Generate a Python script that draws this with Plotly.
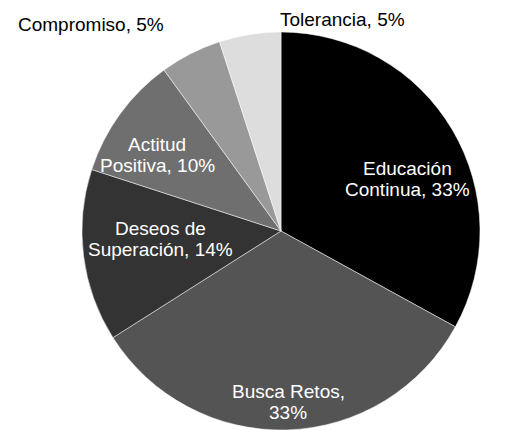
import plotly.graph_objects as go

# ---- data ----
categories = ["Educación Continua", "Busca Retos", "Deseos de Superación",
              "Actitud Positiva", "Compromiso", "Tolerancia"]
values = [33, 33, 14, 10, 5, 5]
colors = ["#000000", "#545454", "#333333", "#6f6f6f", "#999999", "#dddddd"]

# how each data label is split into lines (label text, then value)
label_lines = [
    ["Educación", "Continua, {v}%"],
    ["Busca Retos,", "{v}%"],
    ["Deseos de", "Superación, {v}%"],
    ["Actitud", "Positiva, {v}%"],
    ["Compromiso, {v}%"],
    ["Tolerancia, {v}%"],
]

# ---- layout constants (pixels in a 510x430 canvas) ----
W, H = 510, 430
CX, CY, R = 281, 231, 199
label_pos = [  # (x center, y of each line)
    (407, [168.5, 189]),
    (288, [391.5, 412]),
    (160, [228.5, 249]),
    (157, [144.5, 165]),
    (91, [24.5]),
    (342, [19.5]),
]
inside = [True, True, True, True, False, False]
FONT = "Liberation Sans, Arial, sans-serif"

fig = go.Figure(go.Pie(
    labels=categories, values=values, sort=False, direction="clockwise", rotation=0,
    textinfo="none",
    marker=dict(colors=colors, line=dict(color="#ffffff", width=0.5)),
    domain=dict(x=[(CX - R) / W, (CX + R) / W],
                y=[(H - CY - R) / H, (H - CY + R) / H]),
    showlegend=False, hoverinfo="label+percent",
))

for lines, (px, ys), v, ins in zip(label_lines, label_pos, values, inside):
    for line, py in zip(lines, ys):
        fig.add_annotation(
            text=line.format(v=v), x=px / W, y=1 - py / H,
            xref="paper", yref="paper", xanchor="center", yanchor="middle",
            showarrow=False,
            font=dict(family=FONT, size=19, color="#ffffff" if ins else "#000000"),
        )

fig.update_layout(width=W, height=H, margin=dict(l=0, r=0, t=0, b=0),
                  paper_bgcolor="#ffffff", plot_bgcolor="#ffffff")
fig.write_html("out.html", config={"displayModeBar": False},
               post_script="document.body.style.margin='0px';document.body.style.overflow='hidden';")
